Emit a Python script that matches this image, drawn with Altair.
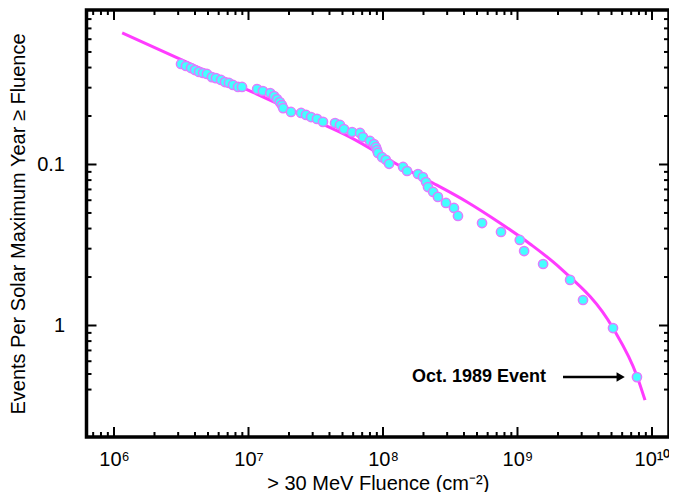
import math
import altair as alt
import pandas as pd

# ---------------- data ----------------
fluence = [3.15e6, 3.43e6, 3.74e6, 4.0e6, 4.29e6, 4.59e6, 4.91e6, 5.35e6, 5.73e6, 6.25e6,
           6.69e6, 7.16e6, 7.67e6, 8.36e6, 8.95e6, 1.16e7, 1.28e7, 1.45e7, 1.55e7, 1.63e7,
           1.71e7, 1.77e7, 1.81e7, 2.07e7, 2.46e7, 2.68e7, 2.92e7, 3.23e7, 3.58e7, 4.40e7,
           4.79e7, 5.13e7, 5.89e7, 6.75e7, 7.10e7, 8.0e7, 8.57e7, 8.87e7, 9.02e7, 9.18e7,
           9.84e7, 1.05e8, 1.11e8, 1.41e8, 1.51e8, 1.82e8, 1.98e8, 2.09e8, 2.16e8, 2.36e8,
           2.56e8, 2.94e8, 3.37e8, 3.61e8, 5.45e8, 7.54e8, 1.04e9, 1.12e9, 1.55e9, 2.46e9,
           3.07e9, 5.13e9, 7.73e9]
events = [4.21, 4.09, 3.97, 3.86, 3.76, 3.70, 3.65, 3.49, 3.44, 3.35,
          3.25, 3.21, 3.12, 3.03, 3.03, 2.94, 2.86, 2.78, 2.66, 2.55,
          2.44, 2.34, 2.24, 2.12, 2.09, 2.03, 1.97, 1.92, 1.84, 1.81,
          1.76, 1.66, 1.59, 1.57, 1.48, 1.40, 1.34, 1.28, 1.23, 1.18,
          1.11, 1.07, 1.01, 0.965, 0.911, 0.873, 0.836, 0.778, 0.724, 0.675,
          0.629, 0.577, 0.537, 0.479, 0.433, 0.381, 0.340, 0.290, 0.241, 0.192,
          0.144, 0.0964, 0.0478]

fit_fluence = [1.15e6, 3.10e6, 1.03e7, 2.72e7, 5.69e7, 1.34e8, 2.35e8, 4.22e8, 7.41e8,
               1.24e9, 2.07e9, 5.13e9, 7.73e9, 8.87e9]
fit_events = [6.56, 4.52, 2.86, 1.97, 1.48, 0.979, 0.767, 0.585, 0.433,
              0.321, 0.228, 0.0964, 0.0486, 0.0344]

x_major = [1e6, 1e7, 1e8, 1e9, 1e10]
x_labels = ["10\u2076", "10\u2077", "10\u2078", "10\u2079", "10\u00b9\u2070"]
x_minor = [m * 10 ** d for d in range(5, 10) for m in range(2, 10)]

y_major = [1, 0.1]
y_labels = ["0.1", "1"]
y_minor = [2, 3, 4, 5, 6, 7, 8, 9,
           0.2, 0.3, 0.4, 0.5, 0.6, 0.7, 0.8, 0.9,
           0.04, 0.05, 0.06, 0.07, 0.08, 0.09]

annot_text = ["Oct. 1989 Event"]
annot_text_x = [1.63e9]
annot_y = [0.0478]
arrow_x = [2.18e9]
arrow_x2 = [5.6e9]
arrow_head_x = [5.85e9]

# ---------------- layout ----------------
W, H = 582.5, 427
FONT = "Liberation Sans"
xs = alt.Scale(type="log", domain=[6.245e5, 1.338e10], nice=False)
ys = alt.Scale(type="log", domain=[0.0203, 9.11], nice=False)


def label_expr(vals, labels):
    expr = "''"
    for v, l in zip(vals, labels):
        expr = f"abs(log(datum.value)/LN10 - ({math.log10(v)})) < 0.01 ? '{l}' : " + expr
    return expr


pts = pd.DataFrame({"f": fluence, "e": events})
fit = pd.DataFrame({"f": fit_fluence, "e": fit_events})

line = alt.Chart(fit).mark_line(color="#ff3cff", strokeWidth=3, interpolate="monotone").encode(
    x=alt.X("f:Q", scale=xs,
            axis=alt.Axis(values=x_major, labelExpr=label_expr(x_major, x_labels), ticks=False,
                          domain=False, grid=False, labelFontSize=20, labelFont=FONT,
                          labelPadding=12, labelColor="black",
                          title="> 30 MeV Fluence (cm\u207b\u00b2)", titleFontSize=20,
                          titleFont=FONT, titleFontWeight="normal", titlePadding=4,
                          titleColor="black")),
    y=alt.Y("e:Q", scale=ys,
            axis=alt.Axis(values=y_major, labelExpr=label_expr(y_major, y_labels), ticks=False,
                          domain=False, grid=False, labelFontSize=20, labelFont=FONT,
                          labelPadding=22, labelColor="black",
                          title="Events Per Solar Maximum Year \u2265 Fluence", titleFontSize=20,
                          titleFont=FONT, titleFontWeight="normal", titlePadding=8,
                          titleColor="black")),
)

points = alt.Chart(pts).mark_point(filled=True, fill="#44ffff", stroke="#e07cff",
                                   strokeWidth=1.5, size=85, opacity=1, shape="circle").encode(
    x=alt.X("f:Q", scale=xs), y=alt.Y("e:Q", scale=ys))


def xtick_layer(vals, length, bottom):
    df = pd.DataFrame({"v": vals})
    return alt.Chart(df).mark_rule(color="black", strokeWidth=2).encode(
        x=alt.X("v:Q", scale=xs),
        y=alt.value(H if bottom else 0),
        y2=alt.value(H - length if bottom else length),
    ).transform_filter("datum.v > 6.3e5 && datum.v < 1.33e10")


def ytick_layer(vals, length, left):
    df = pd.DataFrame({"v": vals})
    return alt.Chart(df).mark_rule(color="black", strokeWidth=2).encode(
        y=alt.Y("v:Q", scale=ys),
        x=alt.value(0 if left else W),
        x2=alt.value(length if left else W - length),
    ).transform_filter("datum.v > 0.0205 && datum.v < 9.0")


ticks = [
    xtick_layer(x_major, 10, True), xtick_layer(x_minor, 5, True),
    xtick_layer(x_major, 10, False), xtick_layer(x_minor, 5, False),
    ytick_layer(y_major, 10, True), ytick_layer(y_minor, 5, True),
    ytick_layer(y_major, 10, False), ytick_layer(y_minor, 5, False),
]

adf = pd.DataFrame({"t": annot_text, "tx": annot_text_x, "y": annot_y,
                    "ax": arrow_x, "ax2": arrow_x2, "hx": arrow_head_x})

annot_text_layer = alt.Chart(adf).mark_text(align="right", baseline="middle", fontSize=18,
                                            fontWeight="bold", font=FONT, color="black").encode(
    x=alt.X("tx:Q", scale=xs), y=alt.Y("y:Q", scale=ys), text="t:N")

arrow_line = alt.Chart(adf).mark_rule(color="black", strokeWidth=2.5).encode(
    x=alt.X("ax:Q", scale=xs), x2="ax2:Q", y=alt.Y("y:Q", scale=ys))

arrow_head = alt.Chart(adf).mark_point(shape="triangle-right", filled=True, color="black",
                                       size=90, opacity=1).encode(
    x=alt.X("hx:Q", scale=xs), y=alt.Y("y:Q", scale=ys))

chart = alt.layer(line, points, *ticks, annot_text_layer, arrow_line, arrow_head).properties(
    width=W, height=H,
    background="white",
    autosize=alt.AutoSizeParams(type="none"),
    padding={"left": 78.5, "top": 2, "right": 0, "bottom": 55},
).configure_view(stroke="black", strokeWidth=3.5)

chart.save("out.html", embed_options={"renderer": "svg", "actions": False})
